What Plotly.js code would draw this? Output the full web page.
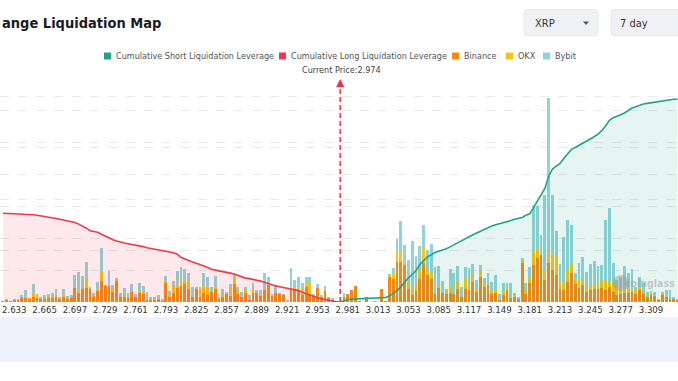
<!DOCTYPE html>
<html><head><meta charset="utf-8">
<script src="https://cdn.plot.ly/plotly-3.0.1.min.js"></script>
<style>html,body{margin:0;padding:0;background:#fff;overflow:hidden}#chart{width:678px;height:381px}</style>
</head><body><div id="chart"></div>
<script>
// ---------------- data (units are relative, axis labels are cropped) -------------
const tickLabels = ['2.633','2.665','2.697','2.729','2.761','2.793','2.825','2.857','2.889','2.921','2.953',
  '2.981','3.013','3.053','3.085','3.117','3.149','3.181','3.213','3.245','3.277','3.309'];
const currentPrice = 2.974;

const binance = [0.1,0.2,0.1,0.2,0.2,0.4,0.4,0.3,0.5,0.4,0.3,0.3,0.4,0.4,0.5,0.3,0.5,0.3,0.4,1.4,0.9,1.3,1.4,1.3,0.5,1.1,2.1,1.6,1.6,1.0,2.1,0.5,0.5,0.4,1.0,0.5,
  0.9,0.8,0.2,0.2,0.2,0.3,0.1,1.9,0.5,0.9,1.4,1.6,1.8,1.3,0.5,1.3,0.5,0.9,0.7,1.0,1.3,0.3,0.5,0.8,0.6,1.8,0.8,0.5,0.9,0.2,0.9,0.9,0.6,1.2,1.7,
  0.6,0.9,0.8,0.7,0,1.2,1.2,1.1,0.7,1.5,0.8,0.5,1.4,0.5,1.1,0.4,0.2,0.1,0,0.5,0.8,1.2,1.6,0.1,0,0.5,0,0,0,1.3,0.1,2.5,2.3,4.0,4.0,3.7,
  1.3,0.7,1.1,2.3,3.9,2.7,2.3,0.8,1.4,0.9,0.8,0.9,0.8,1.3,0.5,1.3,1.2,2.0,1.0,2.5,1.5,1.7,0.8,0.9,0.2,0.7,1.2,0.4,0.5,0.3,3.9,0.8,1.9,3.7,4.4,4.7,
  2.2,3.9,3.2,2.7,1.3,1.2,2.0,2.9,1.8,1.4,1.7,1.0,1.2,1.3,1.3,1.4,1.2,1.5,1.0,0.7,0.8,0.9,0.9,1.0,0.8,1.2,0.8,0.5,0.7,0.6,0.2,0.7,0.5,0.3,0.3,0.2];
const okx = [0,0.1,0,0,0,0.1,0.1,0.1,0.4,0.2,0,0.1,0.1,0.2,0.2,0,0.2,0,0.1,0.1,0.1,0.3,1.0,0,0.1,0.1,0.9,0.1,0.1,0.4,0.2,0,0.2,0.1,0.1,0,
  0.1,0.2,0,0,0,0,0,0.1,0.1,0.8,0.2,0.6,0.4,0.8,0,0,0.8,0.7,0.8,0,0.2,0,0.3,0,0.8,0.7,0.4,0,0.3,0,0.4,0,0,0.1,0.1,
  0,0,0,0,0,0,0.3,0.3,0.6,0.5,1.0,0,0.1,0,0.1,0,0.1,0,0,0,0,0,0,0,0,0,0,0,0,0,0,0.1,0.5,1.0,1.0,0.3,
  0.7,0.6,0.8,0.9,1.5,0.6,0.6,0,0.3,0,0.4,0.7,0,0.8,0,1.1,0.5,0.8,0.3,0.7,0.4,0,0.3,0.3,0,0.3,0.2,0,0.3,0,0.2,0.4,0.5,1.3,1.0,0,
  1.0,1.1,1.5,2.0,0.8,0.7,1.2,0.9,0.4,0.8,0.5,0.5,0.5,0.6,0.3,0.8,0.9,0.5,0.8,0.7,0.7,0.3,0.5,0.2,0.4,0.3,0.2,0,0.2,0,0,0.2,0,0,0,0];
const bybit = [0,0,0,0.1,0.1,0.2,0.7,0,0.9,0.2,0.2,0.3,0.3,0.3,0.6,0.2,0.6,0.3,0.2,1.2,2.0,1.0,1.6,0.2,0.3,0.8,2.4,0,1.4,0.3,0.1,0.4,0.7,0.4,0.7,0.3,
  0.9,0.6,0.8,0.3,0.3,0.4,0.2,0.6,0.5,0.4,1.5,1.3,1.1,0.8,1.0,0.2,0.2,1.3,1.0,0.5,1.1,0.2,0.5,0.2,0.4,0.3,0.3,0.5,0.3,0.5,0.6,0.3,0.6,1.6,0.7,
  0.2,0.7,0.1,0.1,0.2,2.2,0.7,1.1,0.6,0.5,0.7,0.3,0.3,0.2,0.4,0.1,0.1,0,0,0.4,0,0,0,0,0,0,0,0.1,0,0,0,0.2,0.6,1.3,3.1,1.7,
  2.2,4.8,2.7,2.4,2.3,1.9,2.9,2.7,1.9,1.2,0.1,1.7,2.1,1.5,1.0,1.1,1.7,1.0,0.9,0.5,0.5,1.2,0.9,1.5,0.6,0.9,0.5,1.5,0.1,0.2,0.3,0.7,1.1,4.7,4.2,2.0,
  7.5,15.4,6.0,2.4,1.7,4.6,5.0,3.9,0.7,1.7,2.3,1.5,2.1,2.2,2.0,1.5,6.1,7.4,2.1,0.8,1.0,2.4,1.5,2.1,0.3,1.0,0.9,0.5,0.2,0.4,0.1,0.1,0.7,0.9,0.2,0.1];
// cumulative long leverage: from the left edge down to the current price
const cumLong = [8.87,8.86,8.85,8.85,8.84,8.82,8.79,8.76,8.73,8.67,8.62,8.57,8.51,8.43,8.35,8.27,8.20,8.14,8.07,7.96,
  7.79,7.62,7.38,7.13,7.05,6.97,6.78,6.57,6.39,6.22,6.09,5.97,5.90,5.83,5.77,5.70,5.62,5.54,5.42,5.35,
  5.30,5.25,5.20,5.12,5.02,4.93,4.78,4.47,4.30,4.13,3.99,3.88,3.76,3.60,3.44,3.27,3.19,3.13,3.08,3.01,
  2.89,2.80,2.66,2.52,2.39,2.34,2.27,2.18,2.09,1.97,1.83,1.70,1.61,1.53,1.45,1.40,1.35,1.26,1.14,0.98,
  0.82,0.68,0.54,0.42,0.32,0.24,0.16,0.09,0.03,0];
// cumulative short leverage: from the current price to the right edge
const cumShort = [0,0.12,0.25,0.29,0.31,0.33,0.33,0.33,0.34,0.35,0.37,0.40,0.45,0.60,0.83,1.14,1.54,2.00,2.42,2.75,
  3.14,3.75,4.17,4.50,4.73,4.95,5.08,5.18,5.32,5.51,5.72,5.94,6.14,6.35,6.54,6.72,6.90,7.09,7.26,7.42,
  7.59,7.73,7.82,7.91,8.03,8.14,8.27,8.33,8.45,8.67,8.82,9.43,10.06,10.58,11.35,12.58,13.29,13.58,13.86,14.34,
  14.82,15.26,15.45,15.65,15.85,16.06,16.27,16.53,16.78,17.13,17.60,18.14,18.43,18.62,18.73,18.90,19.16,19.40,19.52,19.68,
  19.80,19.86,19.92,19.98,20.05,20.12,20.20,20.23,20.27,20.30];

// ---------------- layout helpers ----------------
const W = 678, H = 381, TOP = 78, BOT = 79;
const plotH = H - TOP - BOT;
const PX = x => x / W;
const PY = y => (H - BOT - y) / plotH;
const FIRST_TICK_BAR = 3, BARS_PER_TICK = 8;
const tickvals = tickLabels.map((_, i) => FIRST_TICK_BAR + BARS_PER_TICK * i);
const idx = binance.map((_, i) => i);
const loI = tickLabels.indexOf('2.953'), hiI = tickLabels.indexOf('2.981');
const priceIdx = Math.round(tickvals[loI] + (tickvals[hiI] - tickvals[loI]) *
  (currentPrice - parseFloat(tickLabels[loI])) / (parseFloat(tickLabels[hiI]) - parseFloat(tickLabels[loI])));
const longX = cumLong.map((_, i) => i);
const shortX = cumShort.map((_, i) => priceIdx + i);

const NARROW = '"DejaVu Sans Condensed", "Liberation Sans Narrow", sans-serif';
const C = {short:'#20a388', long:'#ef3a4b', binance:'#f7880f', okx:'#f9c214', bybit:'#8fd5d8', red:'#ee3340'};

function roundRect(x0, y0, x1, y1, r) {
  const X = PX, Y = PY;
  return `M${X(x0+r)},${Y(y0)} L${X(x1-r)},${Y(y0)} Q${X(x1)},${Y(y0)} ${X(x1)},${Y(y0+r)} ` +
    `L${X(x1)},${Y(y1-r)} Q${X(x1)},${Y(y1)} ${X(x1-r)},${Y(y1)} L${X(x0+r)},${Y(y1)} ` +
    `Q${X(x0)},${Y(y1)} ${X(x0)},${Y(y1-r)} L${X(x0)},${Y(y0+r)} Q${X(x0)},${Y(y0)} ${X(x0+r)},${Y(y0)} Z`;
}

const traces = [
  {type:'bar', name:'Binance', x:idx, y:binance, marker:{color:C.binance}},
  {type:'bar', name:'OKX', x:idx, y:okx, marker:{color:C.okx}},
  {type:'bar', name:'Bybit', x:idx, y:bybit, marker:{color:C.bybit}},
  {type:'scatter', mode:'lines', name:'Cumulative Long Liquidation Leverage', x:longX, y:cumLong, yaxis:'y2',
   line:{color:C.long, width:1.6}, fill:'tozeroy', fillcolor:'rgba(239,58,75,0.11)'},
  {type:'scatter', mode:'lines', name:'Cumulative Short Liquidation Leverage', x:shortX, y:cumShort, yaxis:'y2',
   line:{color:C.short, width:1.6}, fill:'tozeroy', fillcolor:'rgba(32,163,136,0.11)'}
];

const legendItems = [
  {label:'Cumulative Short Liquidation Leverage', color:C.short, x:104},
  {label:'Cumulative Long Liquidation Leverage', color:C.long, x:279},
  {label:'Binance', color:C.binance, x:452},
  {label:'OKX', color:C.okx, x:506},
  {label:'Bybit', color:C.bybit, x:543}
];

const shapes = [
  {type:'rect', xref:'paper', yref:'paper', x0:0, x1:1, y0:PY(317), y1:PY(362), fillcolor:'#eef2fd', line:{width:0}, layer:'below'},
  {type:'line', xref:'x', yref:'paper', x0:priceIdx, x1:priceIdx, y0:0, y1:PY(86), line:{color:C.red, width:1.5, dash:'5px,3px'}},
  {type:'path', xref:'paper', yref:'paper', path:roundRect(524, 9.5, 598, 36, 4), fillcolor:'#eff1f4', line:{color:'#e3e6ea', width:0.8}},
  {type:'path', xref:'paper', yref:'paper', path:roundRect(611, 9.5, 700, 36, 4), fillcolor:'#eff1f4', line:{color:'#e3e6ea', width:0.8}},
  {type:'path', xref:'paper', yref:'paper', path:`M${PX(583)},${PY(21.5)} L${PX(589)},${PY(21.5)} L${PX(586)},${PY(25)} Z`, fillcolor:'#555', line:{width:0}},
  {type:'circle', xref:'paper', yref:'paper', x0:PX(613), x1:PX(629), y0:PY(275), y1:PY(291), fillcolor:'rgba(150,150,150,0.45)', line:{width:0}}
];
legendItems.forEach(it => shapes.push({type:'rect', xref:'paper', yref:'paper', x0:PX(it.x), x1:PX(it.x+7),
  y0:PY(59.5), y1:PY(52.5), fillcolor:it.color, line:{width:0}}));

const annotations = [
  {xref:'paper', yref:'paper', x:PX(0), y:PY(23), xanchor:'left', yanchor:'middle', showarrow:false,
   text:'<b>ange Liquidation Map</b>', font:{family:NARROW, size:14.5, color:'#1b1b1f'}},
  {xref:'paper', yref:'paper', x:PX(341), y:PY(70), xanchor:'center', yanchor:'middle', showarrow:false,
   text:'Current Price:' + currentPrice, font:{family:NARROW, size:9, color:'#444'}},
  {xref:'x', yref:'paper', x:priceIdx, y:PY(79), ax:0, ay:9, showarrow:true, arrowhead:2, arrowsize:1.1,
   arrowwidth:1.5, arrowcolor:C.red, text:''},
  {xref:'paper', yref:'paper', x:PX(533), y:PY(23), xanchor:'left', yanchor:'middle', showarrow:false,
   text:'XRP', font:{family:NARROW, size:11, color:'#333'}},
  {xref:'paper', yref:'paper', x:PX(618), y:PY(23), xanchor:'left', yanchor:'middle', showarrow:false,
   text:'7 day', font:{family:NARROW, size:11, color:'#333'}},
  {xref:'paper', yref:'paper', x:PX(677), y:PY(283), xanchor:'right', yanchor:'middle', showarrow:false,
   text:'<b>coinglass</b>', font:{family:NARROW, size:10.5, color:'rgba(150,150,150,0.5)'}}
];
legendItems.forEach(it => annotations.push({xref:'paper', yref:'paper', x:PX(it.x + 10), y:PY(56), xanchor:'left',
  yanchor:'middle', showarrow:false, text:it.label, font:{family:NARROW, size:9, color:'#555'}}));

const gridCol = '#e8e8e8';
const layout = {
  width:W, height:H, margin:{l:0, r:0, t:TOP, b:BOT, pad:0},
  paper_bgcolor:'#ffffff', plot_bgcolor:'#ffffff',
  barmode:'stack', bargap:0.25, showlegend:false,
  xaxis:{range:[-0.765, 178.13], tickmode:'array', tickvals:tickvals, ticktext:tickLabels, showgrid:false,
    zeroline:false, showline:false, ticks:'', tickfont:{family:NARROW, size:9.5, color:'#333'}},
  yaxis:{range:[0, 22.4], tick0:0, dtick:5.15, showgrid:true, gridcolor:gridCol, griddash:'dash',
    showticklabels:false, zeroline:false, ticks:''},
  yaxis2:{range:[0, 22.4001], tick0:0, dtick:3.2, overlaying:'y', side:'right', showgrid:true, gridcolor:gridCol,
    griddash:'dash', showticklabels:false, zeroline:false, ticks:''},
  shapes:shapes, annotations:annotations,
  font:{family:NARROW}
};
Plotly.newPlot('chart', traces, layout, {staticPlot:true, displayModeBar:false});
</script></body></html>
